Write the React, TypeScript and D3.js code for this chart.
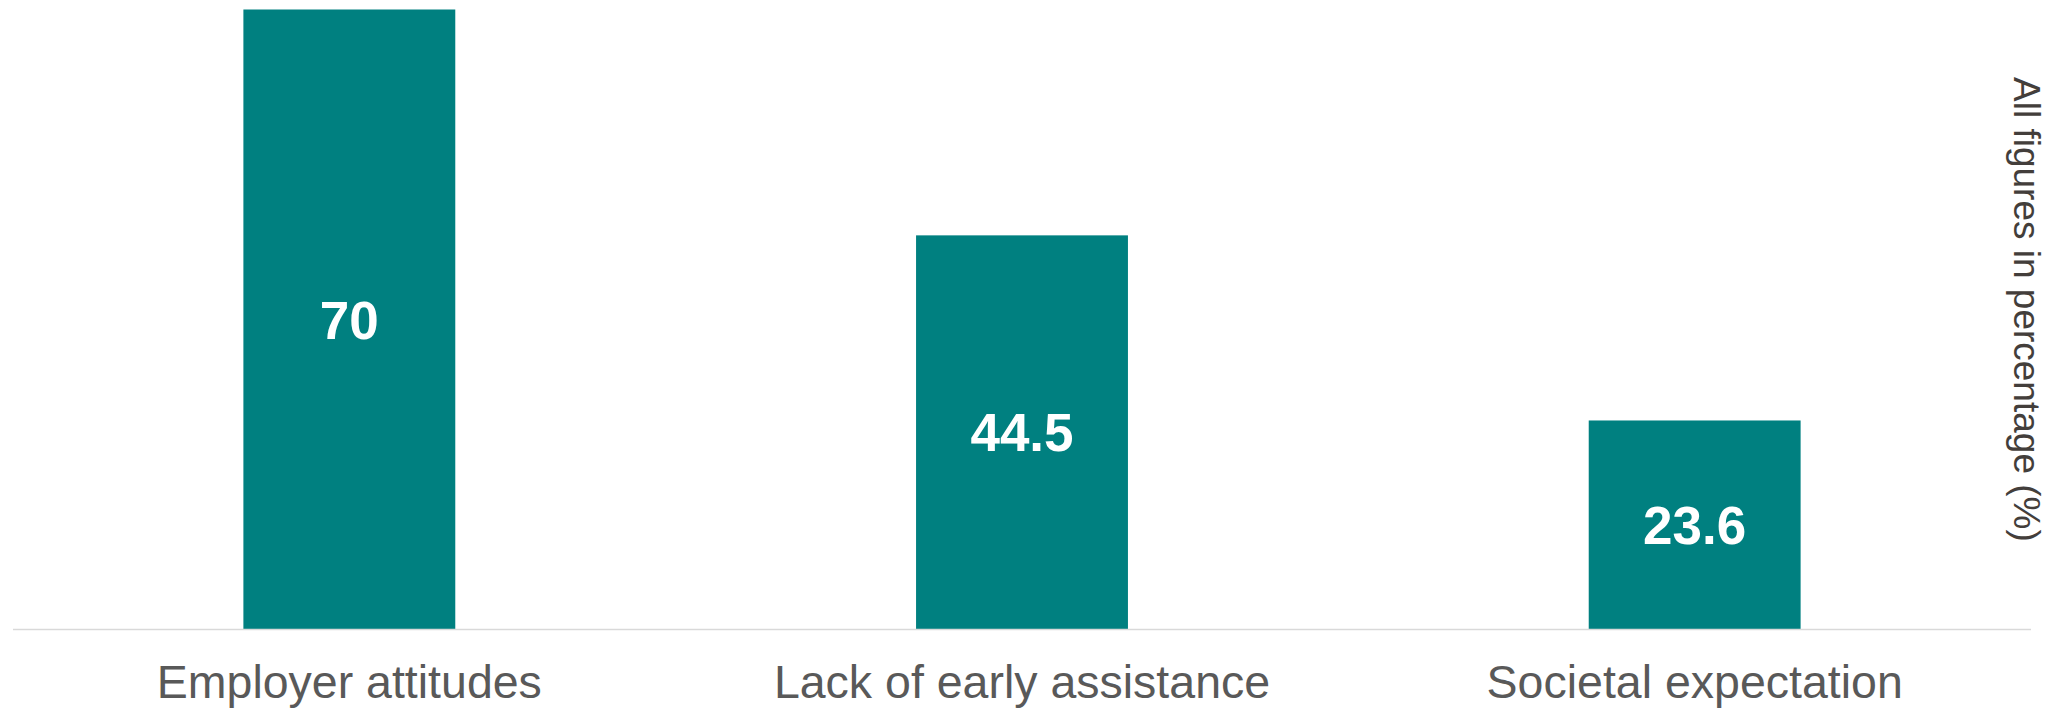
import React from "react";
import * as d3 from "d3";

const categories = ["Employer attitudes", "Lack of early assistance", "Societal expectation"];
const values = [70, 44.5, 23.6];
const valueLabels = ["70", "44.5", "23.6"];
const sideNote = "All figures in percentage (%)";

const W = 2061;
const H = 714;

export default function App() {
  const x = d3
    .scaleBand<string>()
    .domain(categories)
    .range([13, 2031])
    .paddingInner(0.685)
    .paddingOuter(0.3425);
  const y = d3.scaleLinear().domain([0, 70]).range([629.5, 9.5]);

  return (
    <svg
      width={W}
      height={H}
      style={{ position: "absolute", left: 0, top: 0, display: "block" }}
      fontFamily="Arial, 'Liberation Sans', Helvetica, sans-serif"
    >
      <rect x={0} y={0} width={W} height={H} fill="#ffffff" />
      {categories.map((c, i) => {
        const x0 = x(c) as number;
        const bw = x.bandwidth();
        const yTop = y(values[i]);
        const yBase = y(0);
        const cy = (yTop + yBase) / 2;
        return (
          <g key={c}>
            <rect x={x0} y={yTop} width={bw} height={yBase - yTop} fill="#008080" />
            <text
              x={x0 + bw / 2}
              y={cy + 19}
              textAnchor="middle"
              fontSize={53}
              fontWeight="bold"
              fill="#ffffff"
            >
              {valueLabels[i]}
            </text>
            <text
              x={x0 + bw / 2}
              y={698}
              textAnchor="middle"
              fontSize={46.5}
              fill="#595959"
            >
              {c}
            </text>
          </g>
        );
      })}
      <line x1={13} x2={2031} y1={y(0)} y2={y(0)} stroke="#d9d9d9" strokeWidth={1.5} />
      <text
        transform={`translate(2014,77) rotate(90)`}
        fontSize={37}
        fill="#433e3b"
      >
        {sideNote}
      </text>
    </svg>
  );
}
